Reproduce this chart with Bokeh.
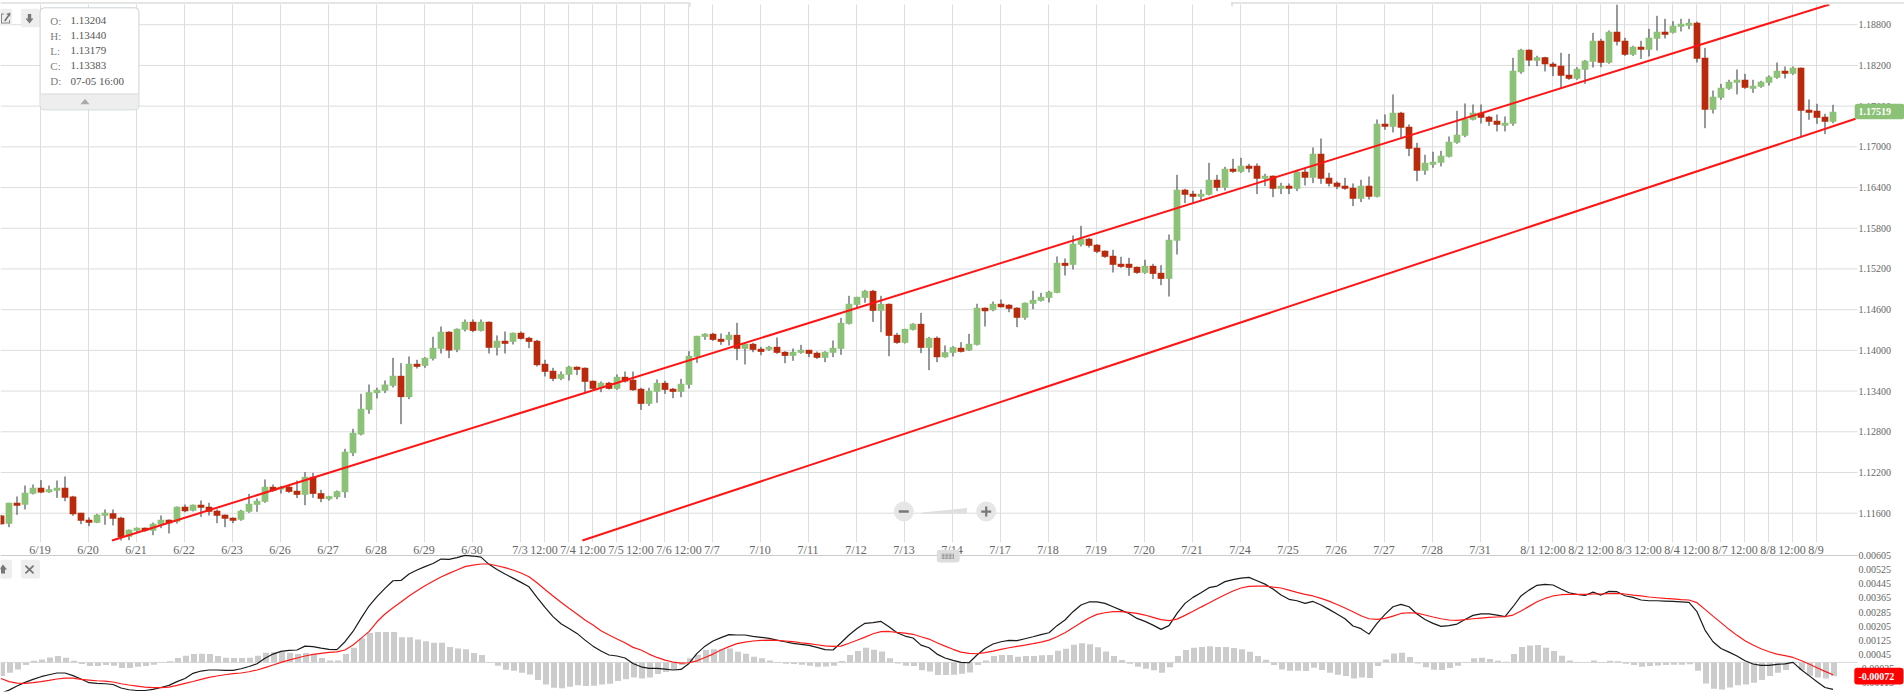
from bokeh.plotting import figure
from bokeh.layouts import column
from bokeh.models import (Range1d, FixedTicker, NumeralTickFormatter, BoxAnnotation, Label,
                          PolyAnnotation, LinearAxis)
from bokeh.embed import file_html
from bokeh.resources import INLINE

# Prices in 1e-5 units (H4 candles)
OPEN = [
111566,111443,111753,111723,111885,111974,111910,111930,111974,111846,
111605,111502,111458,111561,111600,111532,111252,111340,111384,111340,
111429,111502,111473,111694,111635,111723,111694,111635,111576,111532,
111502,111620,111723,111768,111989,111949,111989,111930,111871,112136,
111895,111806,111836,111910,112485,112760,113124,113370,113404,113478,
113625,113311,113802,113772,113876,114023,114274,114008,114303,114421,
114288,114421,114038,114141,114126,114259,114185,114141,113802,113699,
113581,113640,113758,113743,113551,113448,113522,113433,113610,113566,
113433,113212,113389,113521,113433,113389,113492,113905,114199,114244,
114170,114155,114229,114023,114096,114023,114008,114052,113978,113919,
113964,114008,113964,113890,113964,114023,114391,114671,114774,114877,
114583,114686,114229,114111,114303,114391,114037,114185,113899,113964,
114038,113998,114082,114628,114592,114687,114672,114628,114480,114686,
114730,114774,114848,115290,115261,115556,115644,115556,115467,115394,
115276,115276,115231,115143,115246,115143,115054,115615,116366,116307,
116263,116293,116514,116396,116676,116632,116721,116721,116529,116573,
116381,116426,116381,116632,116544,116897,116544,116470,116426,116396,
116234,116426,116264,117340,117295,117502,117295,116986,116647,116735,
116765,116853,117059,117163,117398,117502,117443,117384,117310,117340,
118100,118430,118268,118321,118224,118194,118061,118002,118135,118253,
118563,118238,118695,118563,118356,118474,118430,118592,118695,118680,
118769,118784,118828,118312,117546,117722,117855,117943,117988,117855,
117885,117943,118017,118120,118076,118165,117546,117531,117442,117369]
HIGH = [
111576,111753,111846,112008,112023,112087,112008,112082,112141,111856,
111605,111537,111591,111655,111655,111546,111360,111389,111389,111463,
111566,111507,111699,111728,111728,111787,111753,111655,111581,111537,
111650,111885,111817,112097,112023,112003,112008,112082,112205,112195,
111945,111856,111935,112549,112844,113360,113497,113448,113556,113890,
113812,113910,113861,113900,114200,114352,114283,114323,114455,114455,
114455,114426,114220,114278,114264,114278,114200,114156,113861,113743,
113689,113772,113763,113748,113556,113542,113537,113645,113688,113688,
113448,113448,113571,113551,113448,113580,113988,114214,114253,114258,
114249,114273,114406,114111,114111,114052,114067,114190,113988,114027,
114081,114008,113983,113988,114145,114479,114804,114789,114892,114892,
114804,114691,114258,114317,114401,114553,114199,114205,114072,114062,
114121,114244,114687,114632,114720,114750,114681,114636,114706,114878,
114848,114878,115384,115354,115693,115836,115659,115565,115472,115482,
115379,115364,115236,115335,115276,115256,115708,116587,116381,116352,
116371,116764,116587,116705,116823,116838,116750,116755,116603,116578,
116470,116460,116662,116691,116991,117123,116617,116490,116544,116460,
116514,116563,117403,117477,117772,117516,117330,117059,116883,116927,
116942,117153,117531,117639,117624,117624,117457,117477,117448,118313,
118445,118435,118342,118327,118248,118386,118371,118174,118282,118680,
118592,118715,119098,118607,118489,118563,118739,118931,118887,118852,
118887,118887,118847,118459,117830,117929,117988,118140,118076,117988,
117973,118052,118243,118184,118184,118170,117698,117634,117487,117619]
LOW = [
111429,111394,111576,111655,111876,111895,111900,111826,111777,111561,
111438,111409,111453,111429,111419,111198,111203,111311,111325,111276,
111379,111301,111448,111615,111625,111546,111566,111453,111394,111453,
111488,111605,111620,111753,111915,111890,111900,111822,111718,111826,
111762,111787,111806,111827,112441,112746,113065,113291,113370,113453,
112913,113281,113733,113743,113851,113954,113885,113974,114278,114269,
114278,113954,113925,113954,114087,114161,114033,113763,113615,113546,
113561,113556,113635,113384,113419,113384,113424,113419,113526,113404,
113123,113182,113227,113359,113295,113310,113438,113816,114155,114140,
114081,114072,113856,113792,113973,113929,113993,113949,113811,113846,
113949,113900,113875,113826,113900,113934,114381,114627,114701,114420,
114268,113914,114096,114101,114293,113959,113708,113826,113891,113910,
113969,113990,114072,114352,114577,114632,114563,114342,114451,114607,
114720,114706,114843,115104,115192,115531,115516,115433,115364,115148,
115217,115099,115128,115128,115050,114961,114794,115413,116170,116175,
116219,116283,116347,116356,116617,116617,116622,116303,116421,116259,
116303,116303,116347,116431,116465,116455,116416,116377,116367,116126,
116185,116224,116254,117251,117212,117133,116863,116494,116588,116691,
116711,116843,117045,117143,117389,117344,117310,117227,117227,117310,
118077,118189,118189,118111,118042,117855,117988,117988,117929,118169,
118174,118224,118494,118341,118341,118297,118332,118420,118597,118671,
118700,118734,118243,117275,117492,117693,117840,117772,117855,117796,
117870,117904,118002,118007,118061,117148,117398,117339,117187,117349]
CLOSE = [
111438,111753,111709,111900,111974,111905,111954,111974,111826,111586,
111488,111458,111576,111605,111517,111247,111355,111384,111340,111443,
111502,111453,111694,111630,111723,111679,111620,111561,111517,111488,
111635,111738,111782,111989,111930,111989,111915,111871,112136,111885,
111812,111851,111924,112505,112785,113139,113384,113419,113497,113625,
113311,113802,113758,113890,114038,114274,113998,114318,114421,114288,
114421,114038,114141,114097,114259,114170,114126,113782,113684,113581,
113650,113758,113713,113537,113433,113522,113433,113610,113541,113413,
113212,113404,113521,113418,113389,113507,113919,114214,114244,114155,
114126,114229,114023,114096,114008,113978,114052,113964,113919,113978,
114008,113949,113890,113978,114037,114406,114686,114789,114877,114583,
114686,114214,114111,114317,114391,114037,114185,113899,113973,114047,
113979,114097,114628,114577,114686,114636,114613,114480,114701,114745,
114789,114863,115290,115246,115570,115644,115541,115452,115379,115261,
115231,115217,115143,115246,115128,115054,115629,116366,116293,116263,
116307,116514,116396,116676,116632,116721,116676,116529,116573,116381,
116426,116381,116632,116544,116897,116529,116455,116411,116381,116234,
116426,116264,117340,117295,117502,117281,116971,116647,116765,116779,
116868,117074,117177,117413,117502,117428,117369,117325,117354,118121,
118430,118273,118321,118218,118179,118047,118002,118150,118268,118563,
118238,118695,118548,118356,118474,118430,118607,118695,118651,118784,
118813,118828,118297,117546,117737,117870,117958,117988,117870,117899,
117958,118032,118120,118076,118165,117531,117501,117428,117369,117519]

# MACD pane values in 1e-5 units
MACD = [
-175,-157,-134,-113,-96,-81,-70,-60,-60,-75,
-94,-115,-119,-121,-125,-145,-155,-159,-159,-153,
-142,-130,-109,-91,-62,-49,-43,-43,-45,-45,
-36,-23,-8,23,47,62,68,70,92,89,
81,74,72,117,175,249,319,372,419,462,
464,500,523,542,560,585,583,593,606,602,
596,555,526,500,477,453,428,368,311,259,
219,192,164,126,92,64,42,36,25,-6,
-25,-34,-34,-38,-43,-40,-6,51,92,121,
140,157,155,155,147,142,136,126,117,108,
102,96,85,72,70,111,155,192,221,225,
232,202,168,149,138,98,83,47,25,11,
0,-2,42,79,104,117,125,123,134,145,
157,168,208,240,287,325,342,343,334,315,
296,277,249,232,211,187,208,277,334,368,
394,423,432,457,468,477,481,462,443,415,
381,357,349,334,345,325,300,274,247,206,
191,160,221,272,315,328,315,274,243,221,
204,208,217,243,266,275,275,268,259,315,
376,409,436,442,438,415,394,385,379,398,
381,402,400,377,368,353,349,349,347,345,
343,340,287,183,117,79,58,36,9,-9,
-17,-17,-11,-8,0,-40,-75,-109,-142,-153]
SIGNAL = [
-91,-109,-117,-119,-115,-109,-102,-94,-89,-89,
-96,-100,-104,-106,-111,-121,-128,-134,-140,-143,
-143,-140,-130,-119,-108,-96,-85,-77,-70,-64,
-60,-53,-43,-30,-15,0,13,25,36,45,
51,57,60,70,98,136,174,230,274,309,
342,376,406,434,459,483,504,523,542,551,
557,557,547,536,523,506,485,451,413,376,
340,306,274,240,211,179,155,132,111,85,
70,47,28,13,2,-4,-2,9,28,47,
70,89,106,115,121,125,126,125,121,117,
111,106,100,94,91,92,108,125,143,162,
174,175,170,166,159,145,132,111,92,74,
58,51,49,55,64,74,83,91,98,106,
115,126,145,168,196,225,251,272,281,287,
287,283,277,268,255,242,236,245,266,289,
313,336,360,383,404,421,430,432,432,426,
421,409,396,385,376,362,347,328,308,287,
264,247,243,249,262,277,281,279,268,257,
247,240,238,242,247,251,255,257,259,268,
291,317,343,362,376,383,385,385,385,387,
387,389,391,387,381,376,370,366,362,359,
355,353,338,300,262,225,187,153,123,98,
77,60,47,38,28,11,-9,-30,-51,-70]
HIST = [
-77,-58,-40,-15,9,17,28,36,26,9,
-9,-21,-21,-15,-19,-32,-32,-25,-21,-13,
1,6,25,38,47,49,47,36,26,25,
25,26,38,55,58,60,55,47,53,47,
25,11,11,47,83,136,166,172,172,172,
142,142,130,119,111,111,87,79,75,53,
42,2,-19,-42,-47,-58,-68,-100,-125,-143,
-147,-138,-130,-134,-132,-125,-121,-106,-96,-85,
-91,-85,-66,-55,-40,-15,23,43,70,75,
75,79,60,49,32,23,11,2,-8,-9,
-13,-19,-25,-23,-19,8,42,64,83,72,
62,23,-6,-19,-21,-45,-51,-72,-72,-70,
-64,-57,-15,11,36,42,42,32,36,36,
40,42,66,77,100,108,102,85,62,36,
13,-8,-25,-36,-45,-58,-28,36,70,83,
87,91,87,87,81,75,60,36,15,-15,
-40,-47,-47,-49,-30,-43,-58,-70,-77,-91,
-85,-89,-21,17,51,55,30,-6,-28,-42,
-43,-32,-19,2,23,26,19,9,4,47,
87,96,98,83,64,38,11,2,-2,11,
2,9,6,-8,-15,-25,-21,-17,-15,-13,
-13,-11,-47,-119,-149,-153,-142,-130,-125,-115,
-100,-77,-58,-43,-4,-43,-75,-85,-91,-79]

for name, arr in dict(OPEN=OPEN, HIGH=HIGH, LOW=LOW, CLOSE=CLOSE, MACD=MACD, SIGNAL=SIGNAL, HIST=HIST).items():
    assert len(arr) == 230, (name, len(arr))

TICK_POS = [5,11,17,23,29,35,41,47,53,59,65,68,71,74,77,80,83,86,89,95,101,107,113,119,125,131,137,143,149,155,
            161,167,173,179,185,191,194,197,200,203,206,209,212,215,218,221,224,227]
TICK_LABELS = ["6/19","6/20","6/21","6/22","6/23","6/26","6/27","6/28","6/29","6/30","7/3","12:00","7/4","12:00",
               "7/5","12:00","7/6","12:00","7/7","7/10","7/11","7/12","7/13","7/14","7/17","7/18","7/19","7/20",
               "7/21","7/24","7/25","7/26","7/27","7/28","7/31","8/1","12:00","8/2","12:00","8/3","12:00","8/4",
               "12:00","8/7","12:00","8/8","12:00","8/9"]
PRICE_TICKS = [1.116,1.122,1.128,1.134,1.140,1.146,1.152,1.158,1.164,1.170,1.176,1.182,1.188]
MACD_TICKS = [0.00605,0.00525,0.00445,0.00365,0.00285,0.00205,0.00125,0.00045,-0.00035,-0.00115]
TREND_1 = dict(x=[14,228.67], y=[1.11198,1.19098])
TREND_2 = dict(x=[72.8,231.95], y=[1.11198,1.17413])
TOOLTIP = [("O:","1.13204"),("H:","1.13440"),("L:","1.13179"),("C:","1.13383"),("D:","07-05 16:00")]

GREEN, RED, WICK, GRID, SERIF, TXT = "#8cc178", "#b9290c", "#2a3636", "#dddddd", "Liberation Serif", "#666666"
n = len(OPEN)
xs = [i + 0.125 for i in range(n)]
X0, X_AXIS, X1 = 0.0625, 232.1875, 238.0625
x_range = Range1d(X0, X1)

def right_axis(p, ticks):
    ax = LinearAxis(ticker=FixedTicker(ticks=ticks), formatter=NumeralTickFormatter(format="0.00000"),
                    fixed_location=X_AXIS, axis_line_color=None, major_tick_line_color=None,
                    minor_tick_line_color=None, major_tick_in=0, major_tick_out=0, minor_tick_in=0, minor_tick_out=0,
                    major_label_text_font=SERIF, major_label_text_color=TXT,
                    major_label_text_font_size="10px", major_label_standoff=1)
    p.add_layout(ax, "right")

p1 = figure(width=1904, height=560, frame_width=1904, frame_height=542, x_range=x_range,
            y_range=Range1d(1.11168, 1.19157), y_axis_location=None, output_backend="svg",
            toolbar_location=None, min_border_left=0, min_border_right=0, min_border_top=0, min_border_bottom=18)
p1.outline_line_color = None
p1.border_fill_color = None
p1.ygrid.visible = False
p1.xaxis.ticker = FixedTicker(ticks=TICK_POS)
p1.xaxis.major_label_overrides = dict(zip(TICK_POS, TICK_LABELS))
p1.xgrid.ticker = FixedTicker(ticks=TICK_POS)
p1.xgrid.grid_line_color = GRID
p1.xgrid.grid_line_width = 1
xa = p1.xaxis[0]
xa.axis_line_color = None
xa.major_tick_line_color = None
xa.minor_tick_line_color = None
xa.major_tick_in = 0
xa.major_tick_out = 0
xa.minor_tick_in = 0
xa.minor_tick_out = 0
xa.major_label_text_font = SERIF
xa.major_label_text_color = TXT
xa.major_label_text_font_size = "12px"
xa.major_label_standoff = 0
right_axis(p1, PRICE_TICKS)
p1.segment([X0] * len(PRICE_TICKS), PRICE_TICKS, [X_AXIS] * len(PRICE_TICKS), PRICE_TICKS,
           line_color=GRID, line_width=1, level="underlay")

up = [c >= o for o, c in zip(OPEN, CLOSE)]
p1.segment(xs, [v / 1e5 for v in HIGH], xs, [v / 1e5 for v in LOW], line_color=WICK, line_width=1)
p1.vbar(x=xs, width=0.84, top=[max(o, c) / 1e5 for o, c in zip(OPEN, CLOSE)],
        bottom=[min(o, c) / 1e5 for o, c in zip(OPEN, CLOSE)],
        fill_color=[GREEN if u else RED for u in up], line_color=None)
p1.line(TREND_1["x"], TREND_1["y"], line_color="#ff1414", line_width=2)
p1.line(TREND_2["x"], TREND_2["y"], line_color="#ff1414", line_width=2)

# MACD pane: canvas overlaps the price pane's date labels and stays transparent.
p2 = figure(width=1904, height=155, frame_width=1904, frame_height=146, x_range=x_range,
            y_range=Range1d(-0.0016476, 0.006616), y_axis_location=None, x_axis_location=None,
            output_backend="svg", toolbar_location=None, min_border_left=0, min_border_right=0,
            min_border_top=0, min_border_bottom=9, margin=(-15, 0, 0, 0))
p2.outline_line_color = None
p2.background_fill_color = None
p2.border_fill_color = None
p2.xgrid.visible = False
p2.ygrid.visible = False
right_axis(p2, MACD_TICKS)
p2.segment([X0, X0], [0.00605, 0], [X_AXIS, X_AXIS], [0.00605, 0], line_color=["#cccccc", "#d8d8d8"], line_width=1)
p2.vbar(x=[i + 0.25 for i in range(n)], width=0.75, top=[max(v, 0) / 1e5 for v in HIST],
        bottom=[min(v, 0) / 1e5 for v in HIST], fill_color="#cccccc", line_color=None)
p2.line(xs, [v / 1e5 for v in MACD], line_color="#1a1a1a", line_width=1.2)
p2.line(xs, [v / 1e5 for v in SIGNAL], line_color="#ff1a1a", line_width=1.2)

# --- widget chrome, positioned in screen units relative to each frame ---
def box(p, bottom_px, l, r, t, b, fill, line=None, radius=0, lw=1):
    p.add_layout(BoxAnnotation(left=l, right=r, top=bottom_px - t, bottom=bottom_px - b,
                               left_units="screen", right_units="screen", top_units="screen", bottom_units="screen",
                               fill_color=fill, fill_alpha=1, line_color=line, line_alpha=1 if line else 0,
                               line_width=lw, border_radius=radius, level="overlay"))

def poly(p, bottom_px, pts, fill):
    p.add_layout(PolyAnnotation(xs=[a for a, _ in pts], ys=[bottom_px - b for _, b in pts], xs_units="screen",
                                ys_units="screen", fill_color=fill, fill_alpha=1, line_color=None, level="overlay"))

def text(p, bottom_px, x, y, s, color=TXT, size="11px", weight="normal"):
    p.add_layout(Label(x=x, y=bottom_px - y, x_units="screen", y_units="screen", text=s, text_color=color,
                       text_font=SERIF, text_font_size=size, text_baseline="middle", text_align="left",
                       text_font_style=weight, level="overlay"))

B1, B2 = 542, 691
# top rule with a gap
box(p1, B1, 0, 1904, 0, 4, "#ffffff")
box(p1, B1, 0, 689, 2, 3, "#cccccc")
box(p1, B1, 1231, 1904, 2, 3, "#cccccc")
box(p1, B1, 689, 690, 2, 6, "#cccccc")
box(p1, B1, 1231, 1232, 2, 6, "#cccccc")
# buttons
box(p1, B1, -3, 11.5, 8.3, 25, "#eeeeee", radius=2)
box(p1, B1, 20.4, 39.5, 8.3, 26.7, "#eeeeee", radius=2)
poly(p1, B1, [(0.5, 13), (3.5, 13), (3.5, 14), (1.5, 14), (1.5, 22), (8.5, 22), (8.5, 19.5), (9.5, 19.5), (9.5, 23), (0.5, 23)], "#888888")
poly(p1, B1, [(3.5, 20), (5, 21), (9, 15), (9.5, 17.5), (10, 12), (5.5, 13.5), (7.5, 14.5)], "#777777")
poly(p1, B1, [(27.3, 13.5), (30.7, 13.5), (30.7, 18), (33, 18), (29, 23), (25, 18), (27.3, 18)], "#777777")
# readout box
box(p1, B1, 39.6, 138.4, 7.3, 109.3, "#ffffff", "#c9d3d8", radius=4)
box(p1, B1, 40.2, 137.8, 93.3, 108.7, "#eeeeee", radius=3)
box(p1, B1, 40, 138, 93, 94, "#d5dadc")
poly(p1, B1, [(84.5, 98.3), (89, 103.7), (80, 103.7)], "#aaaaaa")
for k, (a, b) in enumerate(TOOLTIP):
    text(p1, B1, 49.8, 20 + 15 * k, a, color="#808080")
    text(p1, B1, 70, 20 + 15 * k, b, color="#555555")
# price badge
box(p1, B1, 1854.2, 1904, 103.3, 118.7, GREEN, radius=3)
text(p1, B1, 1858, 110.7, "1.17519", color="#ffffff", size="10px", weight="bold")
# zoom control
box(p1, B1, 893.3, 913.3, 501, 521, "#e6e6e6", radius=10)
box(p1, B1, 898.3, 908.3, 509.7, 512.3, "#777777")
poly(p1, B1, [(921.6, 513.5), (921.6, 512), (966.5, 507.5), (966.5, 513.5)], "#e0e0e0")
box(p1, B1, 975.7, 995.7, 501, 521, "#e6e6e6", radius=10)
box(p1, B1, 980.7, 990.7, 510, 512.3, "#777777")
box(p1, B1, 984.6, 986.8, 506, 516, "#777777")

# pane handle
box(p2, B2, 936.3, 959.2, 549.3, 562, "#dddddd", radius=3)
for row in range(4):
    for col in range(9):
        box(p2, B2, 941.3 + 1.4 * col, 942.1 + 1.4 * col, 553.3 + 1.4 * row, 554.1 + 1.4 * row, "#666666")
# macd buttons
box(p2, B2, -3, 11.5, 559.3, 578, "#eeeeee", radius=2)
box(p2, B2, 20.4, 39.5, 559.3, 578, "#eeeeee", radius=2)
poly(p2, B2, [(2.5, 564), (6.5, 569), (4.5, 569), (4.5, 573), (0.5, 573), (0.5, 569), (-1.5, 569)], "#777777")
poly(p2, B2, [(25.5, 564.5), (29, 567.7), (32.5, 564.5), (33.7, 565.7), (30.3, 569), (33.7, 572.3), (32.5, 573.5),
              (29, 570.3), (25.5, 573.5), (24.3, 572.3), (27.7, 569), (24.3, 565.7)], "#777777")
# signal badge
box(p2, B2, 1853.8, 1903, 667.3, 684, "#ff0000", radius=3)
text(p2, B2, 1858, 675.5, "-0.00072", color="#ffffff", size="10px", weight="bold")

layout = column(p1, p2, spacing=0)
open("out.html", "w").write(file_html(layout, INLINE))
